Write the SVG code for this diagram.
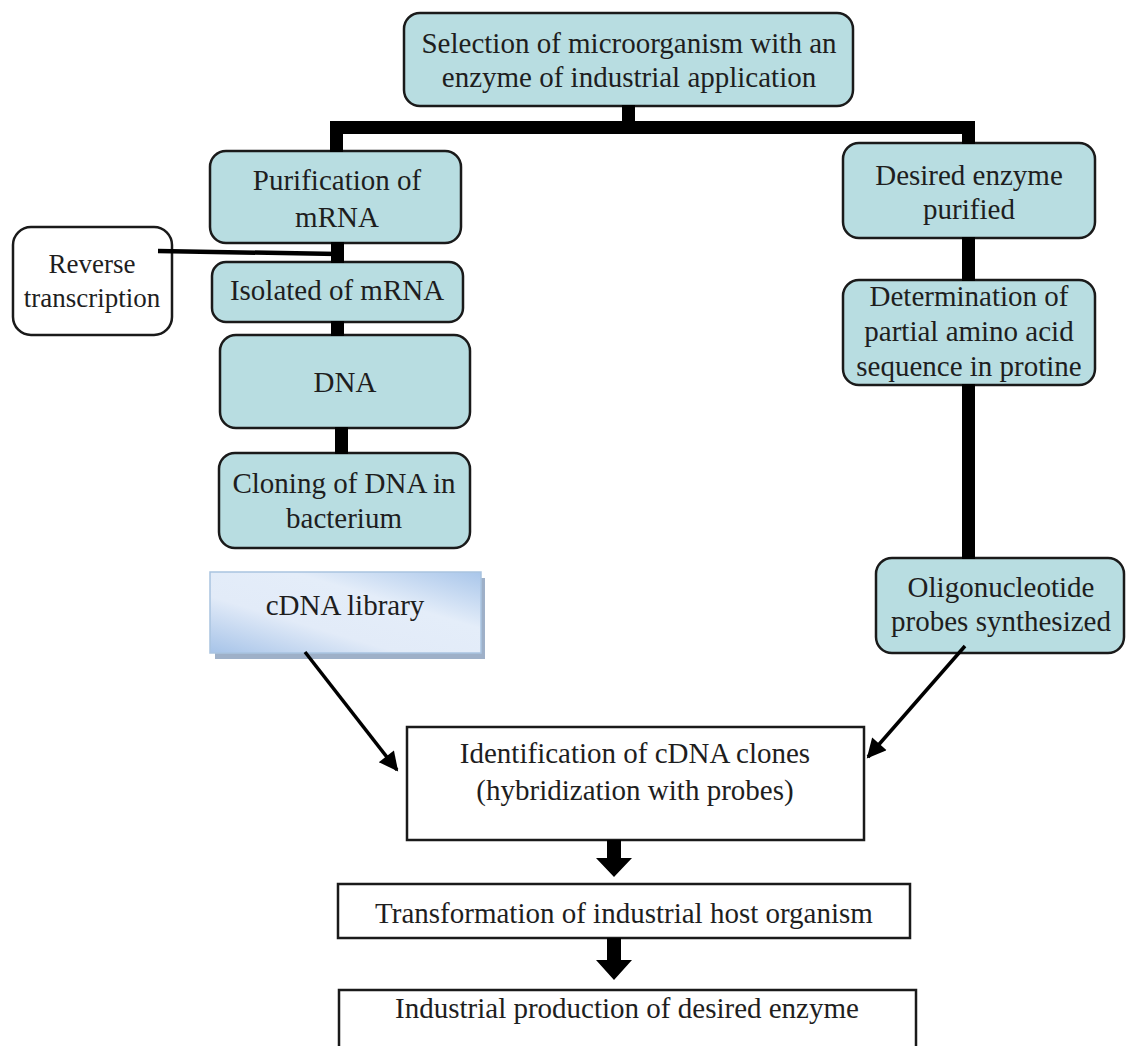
<svg xmlns="http://www.w3.org/2000/svg" width="1126" height="1046" viewBox="0 0 1126 1046">
<defs>
<style>
.tb{fill:#b8dde1;stroke:#1a1a1a;stroke-width:2.5}
.wb{fill:#ffffff;stroke:#1a1a1a;stroke-width:2.5}
.t{font-family:"Liberation Serif","Times New Roman",serif;font-size:29px;fill:#1e1e1e;text-anchor:middle}
.ts{font-family:"Liberation Serif","Times New Roman",serif;font-size:27px;fill:#1e1e1e;text-anchor:middle}
.bar{fill:#000}
.thin{stroke:#000;stroke-width:3.5;fill:none}
</style>
<linearGradient id="cg" x1="0" y1="1" x2="1" y2="0">
<stop offset="0" stop-color="#a6c3e8"/>
<stop offset="0.35" stop-color="#e2ebf8"/>
<stop offset="0.65" stop-color="#e4edf9"/>
<stop offset="1" stop-color="#a9c6ea"/>
</linearGradient>
<marker id="ah" viewBox="0 0 10 10" refX="9" refY="5" markerWidth="6" markerHeight="5.5" orient="auto" markerUnits="strokeWidth">
<path d="M0,0 L10,5 L0,10 z" fill="#000"/>
</marker>
</defs>
<rect width="1126" height="1046" fill="#fff"/>

<g id="n-selection">
<rect class="tb" x="404" y="13" width="449" height="93" rx="16"/>
<text class="t" x="629" y="53">Selection of microorganism with an</text>
<text class="t" x="629" y="87">enzyme of industrial application</text>
</g>
<g id="n-purification">
<rect class="tb" x="210" y="151" width="251" height="92" rx="16"/>
<text class="t" x="337" y="190">Purification of</text>
<text class="t" x="337" y="227">mRNA</text>
</g>
<g id="n-reverse">
<rect class="wb" x="13" y="227" width="159" height="108" rx="18"/>
<text class="ts" x="92" y="273">Reverse</text>
<text class="ts" x="92" y="307">transcription</text>
</g>
<g id="n-isolated">
<rect class="tb" x="212" y="262" width="251" height="60" rx="14"/>
<text class="t" x="337" y="300">Isolated of mRNA</text>
</g>
<g id="n-dna">
<rect class="tb" x="220" y="335" width="250" height="93" rx="16"/>
<text class="t" x="345" y="392">DNA</text>
</g>
<g id="n-cloning">
<rect class="tb" x="219" y="453" width="251" height="95" rx="16"/>
<text class="t" x="344" y="493">Cloning of DNA in</text>
<text class="t" x="344" y="528">bacterium</text>
</g>
<g id="n-cdna">
<rect x="215" y="578" width="270" height="81" fill="#9eb0c8"/>
<rect x="210" y="572" width="271" height="81" fill="url(#cg)" stroke="#a9c3e0" stroke-width="1.5"/>
<text class="t" x="345" y="615">cDNA library</text>
</g>
<g id="n-desired">
<rect class="tb" x="843" y="143" width="252" height="95" rx="16"/>
<text class="t" x="969" y="185">Desired enzyme</text>
<text class="t" x="969" y="219">purified</text>
</g>
<g id="n-determination">
<rect class="tb" x="843" y="280" width="252" height="105" rx="16"/>
<text class="t" x="969" y="306">Determination of</text>
<text class="t" x="969" y="341">partial amino acid</text>
<text class="t" x="969" y="376">sequence in protine</text>
</g>
<g id="n-oligo">
<rect class="tb" x="876" y="558" width="248" height="95" rx="16"/>
<text class="t" x="1001" y="597">Oligonucleotide</text>
<text class="t" x="1001" y="631">probes synthesized</text>
</g>
<g id="n-identification">
<rect class="wb" x="407" y="727" width="457" height="113"/>
<text class="t" x="635" y="763">Identification of cDNA clones</text>
<text class="t" x="635" y="800">(hybridization with probes)</text>
</g>
<g id="n-transformation">
<rect class="wb" x="338" y="884" width="572" height="54"/>
<text class="t" x="624" y="923">Transformation of industrial host organism</text>
</g>
<g id="n-industrial">
<rect class="wb" x="339" y="990" width="577" height="62"/>
<text class="t" x="627" y="1018">Industrial production of desired enzyme</text>
</g>

<g id="connectors">
<rect class="bar" x="622" y="105" width="13" height="17"/>
<rect class="bar" x="330" y="121" width="645" height="13"/>
<rect class="bar" x="330" y="121" width="13" height="31"/>
<rect class="bar" x="962" y="121" width="13" height="23"/>
<rect class="bar" x="331" y="242" width="13" height="21"/>
<rect class="bar" x="331" y="321" width="13" height="15"/>
<rect class="bar" x="335" y="427" width="13" height="27"/>
<rect class="bar" x="962" y="237" width="13" height="44"/>
<rect class="bar" x="962" y="384" width="13" height="175"/>
<path d="M158,251 L338,254" stroke="#000" stroke-width="4.5" fill="none"/>
<line class="thin" x1="305" y1="652" x2="397" y2="770" marker-end="url(#ah)"/>
<line class="thin" x1="965" y1="646" x2="868" y2="757" marker-end="url(#ah)"/>
<path class="bar" d="M607,840 L621,840 L621,858 L632,858 L614,877 L596,858 L607,858 z"/>
<path class="bar" d="M607,938 L621,938 L621,960 L632,960 L614,980 L596,960 L607,960 z"/>
</g>
</svg>
